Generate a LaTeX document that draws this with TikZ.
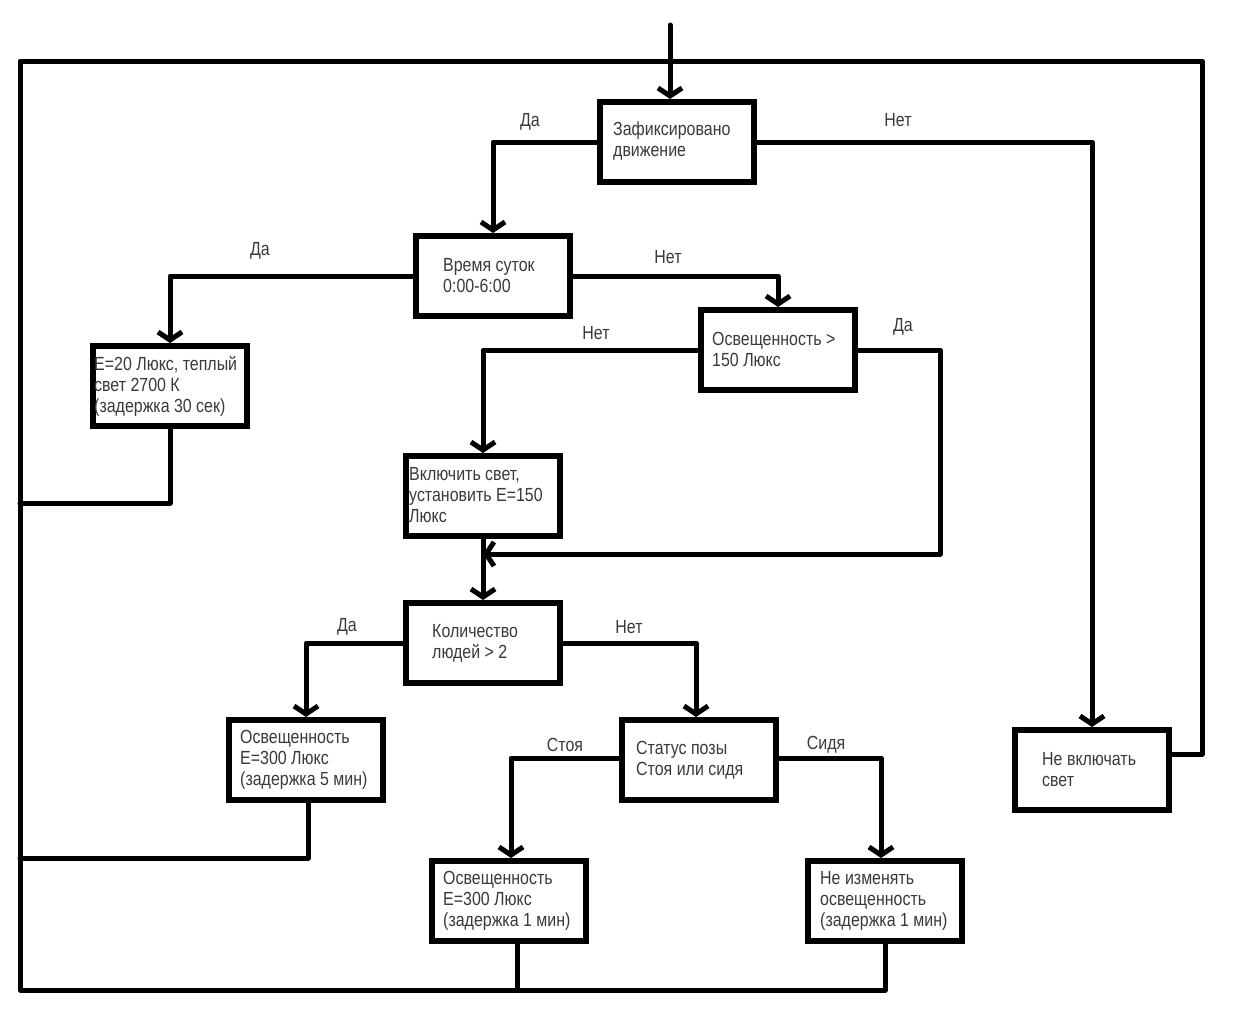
\documentclass[tikz,border=0pt]{standalone}
\usepackage{fontspec}
\setmainfont[FakeStretch=0.84]{Liberation Sans}
\usetikzlibrary{arrows.meta,calc}
\definecolor{txtc}{HTML}{3A3A3A}
\begin{document}
\begin{tikzpicture}[x=1pt,y=-1pt,
 box/.style={draw,line width=6pt,minimum width=154pt,minimum height=80pt,inner sep=0pt},
 txt/.style={anchor=west,align=left,inner sep=0pt,text=txtc,font=\fontsize{19}{21}\selectfont},
 lbl/.style={inner sep=0pt,text=txtc,font=\fontsize{19}{21}\selectfont},
 ln/.style={line width=5pt,line join=round,line cap=round},
 arr/.style={ln,-{Straight Barb[length=8pt,width=24pt,line width=5pt]}}]
\useasboundingbox (0,0) rectangle (1242,1009);
\fill[white] (0,0) rectangle (1242,1009);

% boxes
\node[box] (b1) at (677,142) {};
\node[box] (b2) at (493,276) {};
\node[box] (b3) at (170,386) {};
\node[box] (b4) at (778,350) {};
\node[box] (b5) at (483,496) {};
\node[box] (b6) at (483,643) {};
\node[box] (b7) at (306,760) {};
\node[box] (b8) at (699,760) {};
\node[box] (b9) at (509,901) {};
\node[box] (b10) at (885,901) {};
\node[box] (b11) at (1092,770) {};

% texts
\node[txt] (t1) at (613,141) {Зафиксировано\\движение};
\node[txt] (t2) at (443,276) {Время суток\\0:00-6:00};
\node[txt] (t3) at (94,386) {E=20 Люкс, теплый\\свет 2700 К\\(задержка 30 сек)};
\node[txt] (t4) at (712,349) {Освещенность >\\150 Люкс};
\node[txt] (t5) at (409,495) {Включить свет,\\установить E=150\\Люкс};
\node[txt] (t6) at (432,643) {Количество\\людей > 2};
\node[txt] (t7) at (240,760) {Освещенность\\E=300 Люкс\\(задержка 5 мин)};
\node[txt] (t8) at (636,760) {Статус позы\\Стоя или сидя};
\node[txt] (t9) at (443,901) {Освещенность\\E=300 Люкс\\(задержка 1 мин)};
\node[txt] (t10) at (820,901) {Не изменять\\освещенность\\(задержка 1 мин)};
\node[txt] (t11) at (1042,770) {Не включать\\свет};

% coordinates
\coordinate (top) at (670,25);
\coordinate (cTR) at (1202,61);
\coordinate (cTL) at (20,61);
\coordinate (cBL) at (20,990);
\coordinate (cL7) at (20,858);
\coordinate (cL3) at (20,503);
\coordinate (cR4) at (940,554);

% loop lines
\draw[ln] ([yshift=16pt]b11.east) -| (cTR) -- (cTL) -- (cBL) -| (b10.south);
\draw[ln] ([xshift=8pt]b9.south) -- ([xshift=8pt]b9.south |- cBL);
\draw[ln] ([xshift=2pt]b7.south) |- (cL7);
\draw[ln] (b3.south) |- (cL3);

% arrows
\draw[arr] (top) -- (top |- b1.north);
\draw[arr] (b1.west) -| (b2.north);
\draw[arr] (b1.east) -| (b11.north);
\draw[arr] (b2.west) -| (b3.north);
\draw[arr] (b2.east) -| (b4.north);
\draw[arr] (b4.west) -| (b5.north);
\draw[arr] (b4.east) -| (cR4) -- (b5.south |- cR4);
\draw[arr] (b5.south) -- (b6.north);
\draw[arr] (b6.west) -| (b7.north);
\draw[arr] (b6.east) -| ([xshift=-3pt]b8.north);
\draw[arr] ([yshift=2pt]b8.west) -| ([xshift=2pt]b9.north);
\draw[arr] ([yshift=2pt]b8.east) -| ([xshift=-4pt]b10.north);

% labels
\node[lbl] (l1) at (530,122) {Да};
\node[lbl] (l2) at (898,120) {Нет};
\node[lbl] (l3) at (260,251) {Да};
\node[lbl] (l4) at (668,257) {Нет};
\node[lbl] (l5) at (596,333) {Нет};
\node[lbl] (l6) at (903,327) {Да};
\node[lbl] (l7) at (347,627) {Да};
\node[lbl] (l8) at (629,627) {Нет};
\node[lbl] (l9) at (565,745) {Стоя};
\node[lbl] (l10) at (826,745) {Сидя};
\end{tikzpicture}
\end{document}
